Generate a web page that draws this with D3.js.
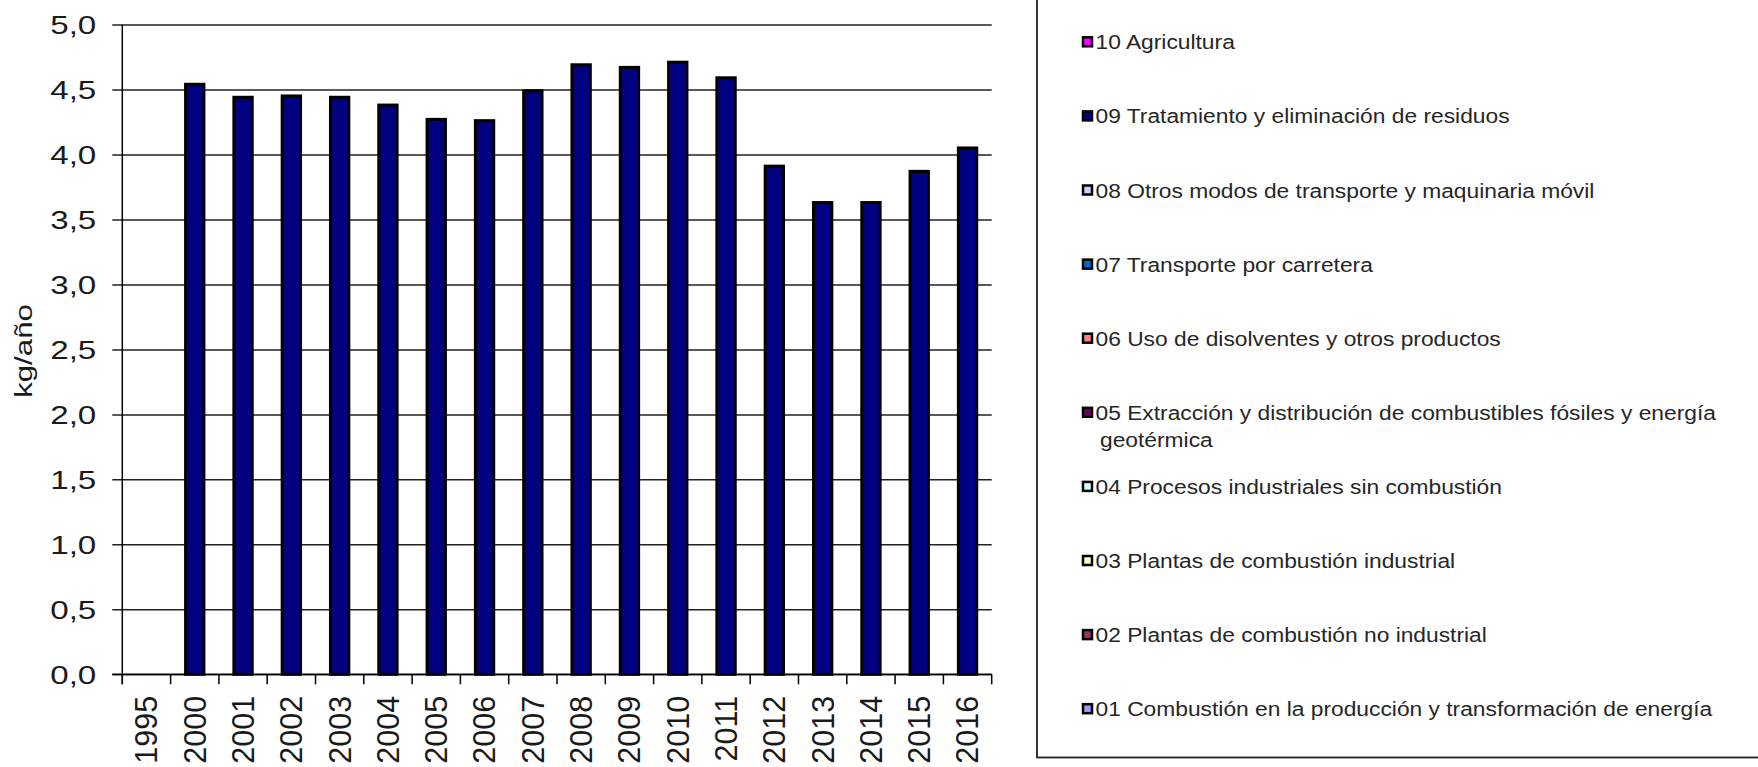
<!DOCTYPE html>
<html>
<head>
<meta charset="utf-8">
<script src="https://cdn.jsdelivr.net/npm/d3@7"></script>
<style>
  html, body { margin: 0; padding: 0; background: #fff; }
  svg { display: block; font-family: "Liberation Sans", Arial, sans-serif; }
</style>
</head>
<body>
<svg id="chart" width="1758" height="767"></svg>
<script>
// ---------- DATA ----------
const years = ["1995","2000","2001","2002","2003","2004","2005","2006","2007","2008","2009","2010","2011","2012","2013","2014","2015","2016"];
const seriesNames = [
  "01 Combustión en la producción y transformación de energía",
  "02 Plantas de combustión no industrial",
  "03 Plantas de combustión industrial",
  "04 Procesos industriales sin combustión",
  "05 Extracción y distribución de combustibles fósiles y energía geotérmica",
  "06 Uso de disolventes y otros productos",
  "07 Transporte por carretera",
  "08 Otros modos de transporte y maquinaria móvil",
  "09 Tratamiento y eliminación de residuos",
  "10 Agricultura"
];
const seriesColors = ["#9999FF","#993366","#FFFFCC","#CCFFFF","#660066","#FF8080","#0066CC","#CCCCFF","#000080","#FF00FF"];
const zeros = [0,0,0,0,0,0,0,0,0,0,0,0,0,0,0,0,0,0];
const s01 = zeros, s02 = zeros, s03 = zeros, s04 = zeros, s05 = zeros,
      s06 = zeros, s07 = zeros, s08 = zeros, s10 = zeros;
const s09 = [0,4.54,4.44,4.45,4.44,4.38,4.27,4.26,4.49,4.69,4.67,4.71,4.59,3.91,3.63,3.63,3.87,4.05];
const seriesValues = [s01,s02,s03,s04,s05,s06,s07,s08,s09,s10];
const yTicks = [0,0.5,1,1.5,2,2.5,3,3.5,4,4.5,5];
const yTitle = "kg/año";

// ---------- LAYOUT ----------
const svg = d3.select("#chart");
const pLeft = 122.3, pRight = 991.7, pTop = 24.5, pBottom = 674.3;
const textColor = "#1a1a1a";

const x = d3.scaleBand().domain(years).range([pLeft, pRight]);
const y = d3.scaleLinear().domain([0, 5]).range([pBottom, pTop]);

// table for stacking
const table = years.map((yr, i) => {
  const row = { year: yr };
  seriesNames.forEach((n, k) => row[n] = seriesValues[k][i]);
  return row;
});
const stacked = d3.stack().keys(seriesNames)(table);

// gridlines + y ticks via axis
const yAxis = d3.axisLeft(y).tickValues(yTicks).tickSize(-(pRight - pLeft)).tickSizeOuter(0)
  .tickFormat(d => d3.format(".1f")(d).replace(".", ","));
const gy = svg.append("g").attr("transform", `translate(${pLeft},0)`).call(yAxis);
gy.select(".domain").remove();
gy.selectAll(".tick line").attr("x1", -10).attr("stroke", "#222").attr("stroke-width", 1.5);
gy.selectAll(".tick text")
  .attr("x", 0).attr("dy", null)
  .attr("fill", textColor)
  .style("font-size", "25.5px")
  .attr("text-anchor", "end")
  .attr("transform", "translate(-26,9.2) scale(1.3,1)");

// bars
const barW = x.bandwidth() * 0.38;
stacked.forEach((layer, k) => {
  svg.append("g").selectAll("rect")
    .data(layer.filter(d => d[1] - d[0] > 0))
    .join("rect")
    .attr("x", d => x(d.data.year) + (x.bandwidth() - barW) / 2)
    .attr("y", d => y(d[1]))
    .attr("width", barW)
    .attr("height", d => y(d[0]) - y(d[1]))
    .attr("fill", seriesColors[k])
    .attr("stroke", "#000")
    .attr("stroke-width", 3);
});

// left axis line
svg.append("line").attr("x1", pLeft).attr("x2", pLeft).attr("y1", pTop).attr("y2", pBottom + 10)
  .attr("stroke", "#000").attr("stroke-width", 1.5);
// bottom axis line
svg.append("line").attr("x1", pLeft - 10).attr("x2", pRight).attr("y1", pBottom).attr("y2", pBottom)
  .attr("stroke", "#000").attr("stroke-width", 1.5);
// boundary ticks
const bounds = years.map(d => x(d)).concat([x.range()[1]]);
svg.append("g").selectAll("line").data(bounds).join("line")
  .attr("x1", d => d).attr("x2", d => d).attr("y1", pBottom).attr("y2", pBottom + 10)
  .attr("stroke", "#000").attr("stroke-width", 1.5);

// x labels via axis
const xAxis = d3.axisBottom(x).tickSize(0).tickSizeOuter(0);
const gx = svg.append("g").attr("transform", `translate(0,${pBottom})`).call(xAxis);
gx.select(".domain").remove();
gx.selectAll(".tick text")
  .attr("fill", textColor)
  .style("font-size", "30.5px")
  .attr("text-anchor", "end")
  .attr("transform", "rotate(-90)")
  .attr("x", -21.5).attr("y", 0).attr("dy", "0.358em");

// y title
svg.append("text")
  .attr("transform", `translate(32,351) rotate(-90) scale(1.3,1)`)
  .attr("text-anchor", "middle")
  .attr("fill", textColor)
  .style("font-size", "24px")
  .text(yTitle);

// legend box
svg.append("rect").attr("x", 1037).attr("y", -5).attr("width", 800).attr("height", 762.5)
  .attr("fill", "none").attr("stroke", "#222").attr("stroke-width", 1.8);

const legendOrder = d3.range(seriesNames.length).reverse();
const lg = svg.append("g");
legendOrder.forEach((k, i) => {
  const cy = 41.8 + i * 74.1;
  lg.append("rect").attr("x", 1083).attr("y", cy - 4.5).attr("width", 9).attr("height", 9)
    .attr("fill", seriesColors[k]).attr("stroke", "#000").attr("stroke-width", 2.5);
  const name = seriesNames[k];
  let lines = [name];
  if (name.length > 62) {
    const cut = name.lastIndexOf(" ");
    lines = [name.slice(0, cut), name.slice(cut + 1)];
  }
  lines.forEach((ln, j) => {
    lg.append("text")
      .attr("transform", `translate(${j === 0 ? 1095.5 : 1100},${cy + 7.5 + j * 27.6}) scale(1.085,1)`)
      .attr("fill", "#262626")
      .style("font-size", "21px")
      .text(ln);
  });
});
</script>
</body>
</html>
